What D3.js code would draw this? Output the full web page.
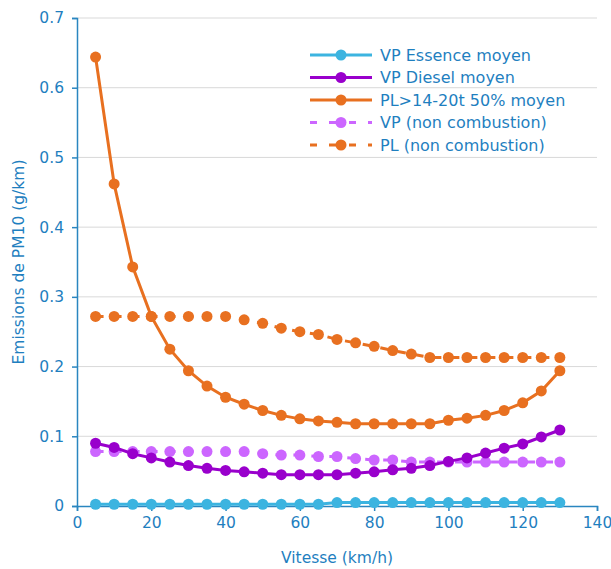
<!DOCTYPE html>
<html>
<head>
<meta charset="utf-8">
<script src="https://cdn.jsdelivr.net/npm/d3@7"></script>
<style>
  body { margin: 0; background: #fff; }
  text { font-family: "DejaVu Sans", Verdana, sans-serif; fill: #1f7fbf; }
</style>
</head>
<body>
<div id="chart"></div>
<script>
/**
 * CONSTANTS AND DATA
 * */
const width = 611,
  height = 569,
  margin = { top: 18, bottom: 63, left: 77, right: 14 };

const speeds = [5, 10, 15, 20, 25, 30, 35, 40, 45, 50, 55, 60, 65, 70, 75, 80, 85, 90, 95, 100, 105, 110, 115, 120, 125, 130];

const vpEssence = [0.0025, 0.0025, 0.0025, 0.0025, 0.0025, 0.0025, 0.0025, 0.0025, 0.0025, 0.0025, 0.0025, 0.0025, 0.0025,
  0.005, 0.005, 0.005, 0.005, 0.005, 0.005, 0.005, 0.005, 0.005, 0.005, 0.005, 0.005, 0.005];
const vpDiesel = [0.090, 0.084, 0.075, 0.069, 0.063, 0.058, 0.054, 0.051, 0.049, 0.047, 0.045, 0.045, 0.045,
  0.045, 0.047, 0.049, 0.052, 0.054, 0.058, 0.064, 0.069, 0.076, 0.083, 0.089, 0.099, 0.109];
const plMoyen = [0.644, 0.462, 0.343, 0.272, 0.225, 0.194, 0.172, 0.156, 0.146, 0.137, 0.130, 0.125, 0.122,
  0.120, 0.118, 0.118, 0.118, 0.118, 0.118, 0.123, 0.126, 0.130, 0.137, 0.148, 0.165, 0.194];
const vpNonComb = [0.078, 0.078, 0.078, 0.078, 0.078, 0.078, 0.078, 0.078, 0.078, 0.075, 0.073, 0.073, 0.071,
  0.071, 0.068, 0.066, 0.066, 0.063, 0.063, 0.063, 0.063, 0.063, 0.063, 0.063, 0.063, 0.063];
const plNonComb = [0.272, 0.272, 0.272, 0.272, 0.272, 0.272, 0.272, 0.272, 0.267, 0.262, 0.255, 0.250, 0.246,
  0.239, 0.234, 0.229, 0.223, 0.218, 0.213, 0.213, 0.213, 0.213, 0.213, 0.213, 0.213, 0.213];

const xTicks = [0, 20, 40, 60, 80, 100, 120, 140];
const yTicks = [0, 0.1, 0.2, 0.3, 0.4, 0.5, 0.6, 0.7];

const series = [
  { name: "VP Essence moyen", values: vpEssence, color: "#3cb4e0", dash: null },
  { name: "VP Diesel moyen", values: vpDiesel, color: "#9900cc", dash: null },
  { name: "PL>14-20t 50% moyen", values: plMoyen, color: "#e87020", dash: null },
  { name: "VP (non combustion)", values: vpNonComb, color: "#cc66ff", dash: "8,10" },
  { name: "PL (non combustion)", values: plNonComb, color: "#e87020", dash: "8,10" },
];

const axisColor = "#2a86c0";

/**
 * SVG
 * */
const svg = d3.select("#chart")
  .append("svg")
  .attr("width", width)
  .attr("height", height);

// SCALES
const xScale = d3.scaleLinear()
  .domain([0, 140])
  .range([margin.left, width - margin.right]);

const yScale = d3.scaleLinear()
  .domain([0, 0.7])
  .range([height - margin.bottom, margin.top]);

// gridlines
svg.append("g")
  .selectAll("line")
  .data(yTicks.slice(1))
  .join("line")
  .attr("x1", xScale(0))
  .attr("x2", xScale(140))
  .attr("y1", d => yScale(d))
  .attr("y2", d => yScale(d))
  .attr("stroke", "#d9d9d9")
  .attr("stroke-width", 1);

// AXES
const xAxis = d3.axisBottom(xScale)
  .tickValues(xTicks)
  .tickFormat(d3.format("d"))
  .tickSizeOuter(0)
  .tickSize(5)
  .tickPadding(6);

const yAxis = d3.axisLeft(yScale)
  .tickValues(yTicks)
  .tickFormat(d => d === 0 ? "0" : d3.format(".1f")(d))
  .tickSizeOuter(0)
  .tickSize(5)
  .tickPadding(8);

const gx = svg.append("g")
  .attr("transform", `translate(0,${yScale(0)})`)
  .call(xAxis);

const gy = svg.append("g")
  .attr("transform", `translate(${xScale(0)},0)`)
  .call(yAxis);

[gx, gy].forEach(g => {
  g.select(".domain").attr("stroke", axisColor).attr("stroke-width", 1.5);
  g.selectAll(".tick line").attr("stroke", axisColor).attr("stroke-width", 1.5);
  g.selectAll(".tick text")
    .attr("fill", "#1f7fbf")
    .style("font-size", "15.5px")
    .style("font-family", "DejaVu Sans, Verdana, sans-serif");
});

// axis titles
svg.append("text")
  .attr("x", (xScale(0) + xScale(140)) / 2)
  .attr("y", 563)
  .attr("text-anchor", "middle")
  .style("font-size", "15.5px")
  .text("Vitesse (km/h)");

svg.append("text")
  .attr("transform", `translate(24,${yScale(0.35)}) rotate(-90)`)
  .attr("text-anchor", "middle")
  .style("font-size", "15.5px")
  .text("Emissions de PM10 (g/km)");

// LINES
const lineFunc = d3.line()
  .x((d, i) => xScale(speeds[i]))
  .y(d => yScale(d));

const drawOrder = [4, 3, 0, 1, 2];
drawOrder.forEach(k => {
  const s = series[k];
  const g = svg.append("g");
  g.append("path")
    .attr("d", lineFunc(s.values))
    .attr("fill", "none")
    .attr("stroke", s.color)
    .attr("stroke-width", 3)
    .attr("stroke-dasharray", s.dash);
  g.selectAll("circle")
    .data(s.values)
    .join("circle")
    .attr("cx", (d, i) => xScale(speeds[i]))
    .attr("cy", d => yScale(d))
    .attr("r", 5.5)
    .attr("fill", s.color);
});

// LEGEND
const legend = svg.append("g")
  .attr("transform", "translate(310,55)");

const row = legend.selectAll("g")
  .data(series)
  .join("g")
  .attr("transform", (d, i) => `translate(0,${i * 22.5})`);

row.append("line")
  .attr("x1", 0)
  .attr("x2", 62)
  .attr("stroke", d => d.color)
  .attr("stroke-width", 3)
  .attr("stroke-dasharray", d => d.dash ? "7,12,8,12" : null);

row.append("circle")
  .attr("cx", 31)
  .attr("r", 5.5)
  .attr("fill", d => d.color);

row.append("text")
  .attr("x", 70)
  .attr("dy", "0.35em")
  .style("font-size", "16px")
  .text(d => d.name);
</script>
</body>
</html>
